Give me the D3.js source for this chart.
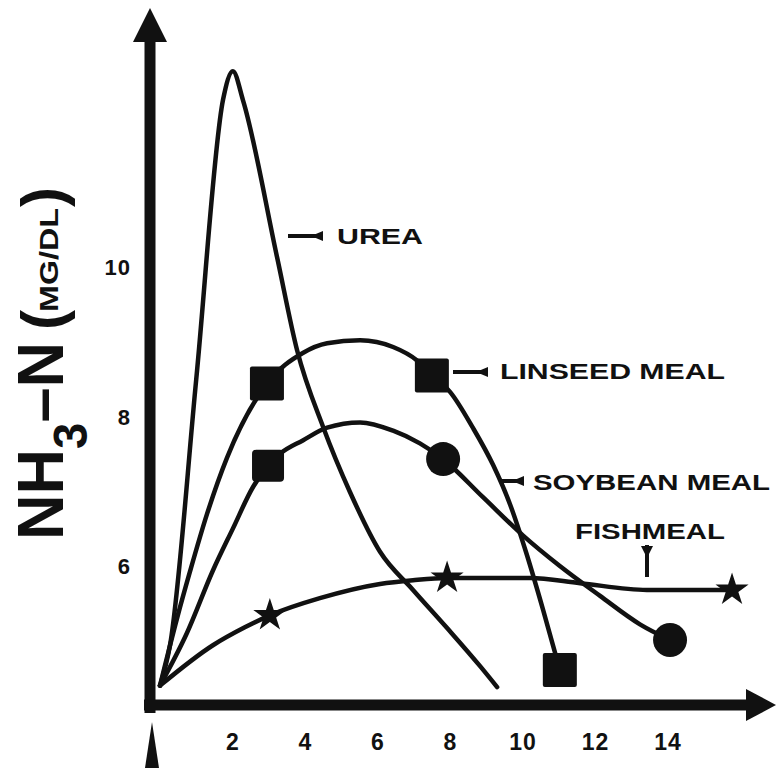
<!DOCTYPE html>
<html>
<head>
<meta charset="utf-8">
<script src="https://cdn.jsdelivr.net/npm/d3@7"></script>
<style>
  html, body { margin: 0; padding: 0; background: #fff; }
  svg { display: block; }
  text { font-family: "Liberation Sans", Arial, sans-serif; font-weight: bold; fill: #111; }
</style>
</head>
<body>
<svg id="chart" width="776" height="768"></svg>
<script>
// ---- data ----
const xTicks = [2, 4, 6, 8, 10, 12, 14];
const yTicks = [6, 8, 10];

const ureaX = [0, 0.28, 1.0, 1.74, 2.01, 2.29, 3.23, 3.78, 4.50, 5.24, 6.07, 6.98, 7.92, 8.83, 9.30];
const ureaY = [4.4, 4.95, 8.5, 12.24, 12.62, 12.23, 10.13, 8.89, 7.86, 6.99, 6.19, 5.68, 5.17, 4.66, 4.38];

const linseedX = [0, 0.47, 0.83, 1.30, 1.85, 2.95, 3.94, 4.61, 5.52, 6.43, 7.09, 7.50, 8.0, 8.63, 9.19, 9.66, 10.12, 10.57, 11.03];
const linseedY = [4.4, 5.30, 5.93, 6.70, 7.45, 8.44, 8.85, 8.98, 9.02, 8.93, 8.75, 8.55, 8.33, 7.85, 7.35, 6.82, 6.15, 5.41, 4.61];
const linseedMarkX = [2.95, 7.50, 11.03];
const linseedMarkY = [8.44, 8.55, 4.61];

const soyX = [0, 0.74, 1.46, 2.01, 2.57, 2.98, 3.31, 3.94, 4.61, 5.52, 6.43, 7.17, 7.81, 8.91, 10.01, 11.03, 12.14, 13.24, 14.07];
const soyY = [4.4, 5.10, 5.94, 6.50, 7.06, 7.34, 7.50, 7.68, 7.85, 7.92, 7.81, 7.64, 7.43, 6.92, 6.41, 6.00, 5.60, 5.22, 5.01];
const soySquareX = [2.98];
const soySquareY = [7.34];
const soyCircleX = [7.81, 14.07];
const soyCircleY = [7.43, 5.01];

const fishX = [0, 1.46, 2.34, 3.03, 4.41, 6.07, 6.98, 7.92, 10.21, 11.59, 13.43, 15.78];
const fishY = [4.4, 4.94, 5.18, 5.34, 5.57, 5.76, 5.81, 5.84, 5.84, 5.77, 5.68, 5.68];
const fishMarkX = [3.03, 7.92, 15.78];
const fishMarkY = [5.34, 5.84, 5.68];

// ---- scales ----
const x = d3.scaleLinear().domain([0, 14]).range([160, 667.5]);
const y = d3.scaleLinear().domain([6, 10]).range([566, 267]);

const svg = d3.select("#chart");
const ink = "#111";

// ---- axes (thick arrows) ----
const axisX = 150, axisY = 705;
svg.append("line").attr("x1", axisX).attr("x2", axisX).attr("y1", axisY + 8).attr("y2", 36)
  .attr("stroke", ink).attr("stroke-width", 11);
svg.append("path").attr("d", `M${axisX},8 L${axisX - 17},42 L${axisX + 17},42 Z`).attr("fill", ink);
svg.append("line").attr("x1", axisX - 6).attr("x2", 752).attr("y1", axisY).attr("y2", axisY)
  .attr("stroke", ink).attr("stroke-width", 11);
svg.append("path").attr("d", `M776,${axisY} L746,${axisY - 16} L746,${axisY + 16} Z`).attr("fill", ink);

// small upward arrow under origin
svg.append("path").attr("d", `M152,722 L145,768 L159,768 Z`).attr("fill", ink);

// tick labels through d3 axes
const gx = svg.append("g").attr("transform", `translate(0,${axisY})`)
  .call(d3.axisBottom(x).tickValues(xTicks).tickSize(0).tickFormat(d3.format("d")));
gx.select(".domain").remove();
gx.selectAll("text").attr("y", 45).attr("dy", 0)
  .style("font-size", "23px").style("font-weight", "bold").style("letter-spacing", "1px")
  .attr("fill", ink).style("font-family", "'Liberation Sans', Arial, sans-serif");

const gy = svg.append("g").attr("transform", `translate(131,0)`)
  .call(d3.axisLeft(y).tickValues(yTicks).tickSize(0).tickFormat(d3.format("d")));
gy.select(".domain").remove();
gy.selectAll("text").attr("x", 0).attr("dy", "0.36em")
  .style("font-size", "22px").style("font-weight", "bold").style("letter-spacing", "1px")
  .attr("fill", ink).style("font-family", "'Liberation Sans', Arial, sans-serif");

// ---- curves ----
const line = d3.line().x(d => x(d[0])).y(d => y(d[1])).curve(d3.curveMonotoneX);
function zip(a, b) { return a.map((v, i) => [v, b[i]]); }

[[ureaX, ureaY], [linseedX, linseedY], [soyX, soyY], [fishX, fishY]].forEach(([xs, ys]) => {
  svg.append("path").datum(zip(xs, ys)).attr("d", line)
    .attr("fill", "none").attr("stroke", ink).attr("stroke-width", 4.5)
    .attr("stroke-linejoin", "round").attr("stroke-linecap", "round");
});

// ---- markers ----
const sq = 34;
svg.selectAll(".sqL").data(zip(linseedMarkX, linseedMarkY)).enter().append("rect")
  .attr("x", d => x(d[0]) - sq / 2).attr("y", d => y(d[1]) - sq / 2)
  .attr("width", sq).attr("height", sq).attr("rx", 2).attr("fill", ink);
svg.selectAll(".sqS").data(zip(soySquareX, soySquareY)).enter().append("rect")
  .attr("x", d => x(d[0]) - 16).attr("y", d => y(d[1]) - 16)
  .attr("width", 32).attr("height", 32).attr("rx", 4).attr("fill", ink);
svg.selectAll(".circ").data(zip(soyCircleX, soyCircleY)).enter().append("circle")
  .attr("cx", d => x(d[0])).attr("cy", d => y(d[1])).attr("r", 17).attr("fill", ink);
const star = d3.symbol().type(d3.symbolStar).size(340);
svg.selectAll(".star").data(zip(fishMarkX, fishMarkY)).enter().append("path")
  .attr("transform", d => `translate(${x(d[0])},${y(d[1])})`).attr("d", star).attr("fill", ink);

// ---- curve labels with pointers ----
function pointerLeft(x1, x2, yy) {
  svg.append("line").attr("x1", x1).attr("x2", x2).attr("y1", yy).attr("y2", yy)
    .attr("stroke", ink).attr("stroke-width", 4);
  svg.append("path").attr("d", `M${x2 - 12},${yy} L${x2},${yy - 5} L${x2},${yy + 5} Z`).attr("fill", ink);
}
function label(txt, x0, yc, len) {
  svg.append("text").attr("x", x0).attr("y", yc).attr("dy", "0.36em")
    .attr("textLength", len).attr("lengthAdjust", "spacingAndGlyphs")
    .style("font-size", "22px").text(txt);
}
pointerLeft(288, 323, 236);
label("UREA", 337, 236, 86);
pointerLeft(453, 488, 372);
label("LINSEED  MEAL", 500, 371, 225);
pointerLeft(500, 524, 481);
label("SOYBEAN  MEAL", 533, 482, 237);
label("FISHMEAL", 575, 531, 150);
svg.append("line").attr("x1", 647).attr("x2", 647).attr("y1", 545).attr("y2", 577)
  .attr("stroke", ink).attr("stroke-width", 4);
svg.append("path").attr("d", `M641,546 L653,546 L647,558 Z`).attr("fill", ink);

// ---- y axis title (rotated) ----
const yt = svg.append("g").attr("transform", "translate(63,540) rotate(-90)");
const t1 = yt.append("text").attr("x", 0).attr("y", 0).style("font-size", "64px")
  .attr("textLength", 198).attr("lengthAdjust", "spacingAndGlyphs");
t1.append("tspan").text("NH");
t1.append("tspan").attr("dy", 24).style("font-size", "48px").text("3");
t1.append("tspan").attr("dy", -24).text("–N");
yt.append("text").attr("x", 210).attr("y", 0).style("font-size", "60px").text("(");
yt.append("text").attr("x", 228).attr("y", -5).attr("textLength", 104).attr("lengthAdjust", "spacingAndGlyphs")
  .style("font-size", "26px").text("MG/DL");
yt.append("text").attr("x", 333).attr("y", 0).style("font-size", "60px").text(")");
</script>
</body>
</html>
